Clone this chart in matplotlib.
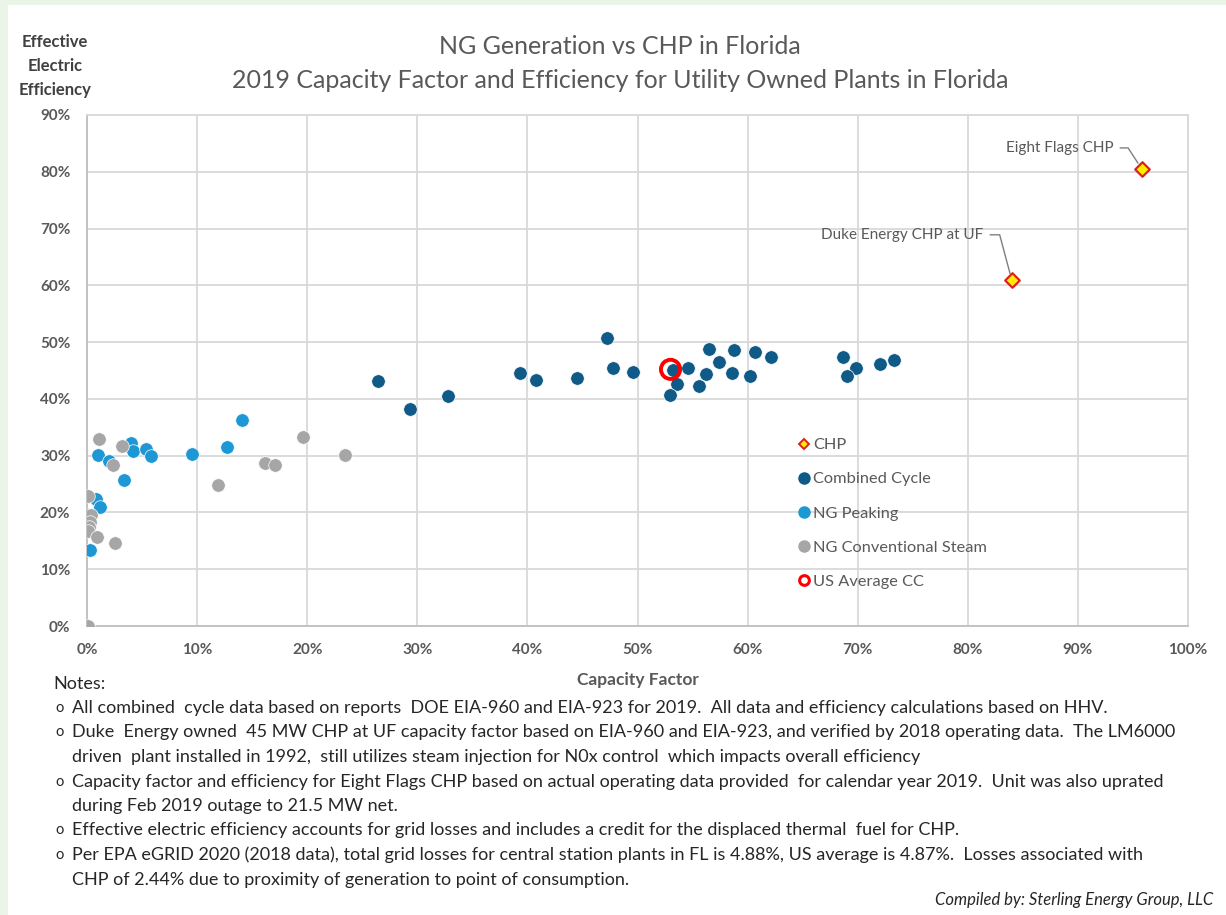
import matplotlib
matplotlib.use('Agg')
import matplotlib.pyplot as plt
from matplotlib.ticker import FuncFormatter, MultipleLocator
from matplotlib.lines import Line2D

plt.rcParams['font.family'] = ['Lato', 'DejaVu Sans']

# capacity factor (%) / effective electric efficiency (%)
chp_x = [95.8, 84.0]
chp_y = [80.5, 60.9]
chp_names = ['Eight Flags CHP', 'Duke Energy CHP at UF']

cc_x = [26.4, 29.3, 32.8, 39.3, 40.75, 44.5, 47.2, 47.75, 49.6, 53.25, 53.6, 52.95, 54.6, 55.6,
        56.2, 56.5, 57.4, 58.8, 58.6, 60.2, 60.7, 62.1, 68.7, 69.85, 69.05, 72.0, 73.3]
cc_y = [43.2, 38.3, 40.5, 44.5, 43.3, 43.7, 50.8, 45.4, 44.7, 45.1, 42.6, 40.7, 45.5, 42.3,
        44.3, 48.8, 46.5, 48.6, 44.5, 44.0, 48.2, 47.4, 47.4, 45.4, 44.1, 46.1, 46.9]

peak_x = [14.1, 12.7, 9.5, 4.0, 4.15, 5.4, 5.8, 0.97, 2.0, 3.36, 0.8, 1.2, 0.0, 0.27]
peak_y = [36.3, 31.5, 30.3, 32.2, 30.9, 31.1, 29.9, 30.1, 29.0, 25.8, 22.3, 21.0, 19.5, 13.4]

steam_x = [1.1, 3.15, 19.6, 23.4, 16.2, 17.1, 2.4, 11.9, 0.06, 0.4, 0.27, 0.2, 0.06, 0.9, 2.5, 0.1]
steam_y = [32.9, 31.7, 33.2, 30.2, 28.7, 28.3, 28.3, 24.9, 22.9, 19.5, 18.4, 17.5, 16.7, 15.6, 14.7, 0.0]

usavg_x = [53.0]
usavg_y = [45.2]

notes = [
    ['All combined  cycle data based on reports  DOE EIA-960 and EIA-923 for 2019.  All data and efficiency calculations based on HHV.'],
    ['Duke  Energy owned  45 MW CHP at UF capacity factor based on EIA-960 and EIA-923, and verified by 2018 operating data.  The LM6000',
     'driven  plant installed in 1992,  still utilizes steam injection for N0x control  which impacts overall efficiency'],
    ['Capacity factor and efficiency for Eight Flags CHP based on actual operating data provided  for calendar year 2019.  Unit was also uprated',
     'during Feb 2019 outage to 21.5 MW net.'],
    ['Effective electric efficiency accounts for grid losses and includes a credit for the displaced thermal  fuel for CHP.'],
    ['Per EPA eGRID 2020 (2018 data), total grid losses for central station plants in FL is 4.88%, US average is 4.87%.  Losses associated with',
     'CHP of 2.44% due to proximity of generation to point of consumption.'],
]

CC = '#0f5a87'
PEAK = '#1e98d4'
STEAM = '#a6a6a6'
TXT = '#595959'

fig = plt.figure(figsize=(12.26, 9.15), dpi=100)
fig.patch.set_facecolor('#eaf5e8')
# white panel with thin green margin on the left and top
fig.add_artist(plt.Rectangle((8 / 1226, 0), 1, 1 - 5 / 915, transform=fig.transFigure,
                             facecolor='white', edgecolor='none', zorder=0))

ax = fig.add_axes([87 / 1226, 1 - 626 / 915, 1101 / 1226, 511 / 915])
ax.set_xlim(0, 100)
ax.set_ylim(0, 90)
ax.xaxis.set_major_locator(MultipleLocator(10))
ax.yaxis.set_major_locator(MultipleLocator(10))
pct = FuncFormatter(lambda v, p: '{:.0f}%'.format(v))
ax.xaxis.set_major_formatter(pct)
ax.yaxis.set_major_formatter(pct)
ax.grid(True, color='#d9d9d9', linewidth=1.3)
ax.set_axisbelow(True)
for s in ax.spines.values():
    s.set_color('#d9d9d9')
    s.set_linewidth(1.3)
ax.spines['left'].set_color('#bfbfbf')
ax.spines['bottom'].set_color('#bfbfbf')
ax.tick_params(length=0, labelsize=11, labelcolor=TXT)
ax.tick_params(axis='x', pad=12)
ax.tick_params(axis='y', pad=12)
for lab in ax.get_xticklabels() + ax.get_yticklabels():
    lab.set_fontweight('bold')

ax.scatter(chp_x, chp_y, marker='D', s=55, facecolor='#ffee00', edgecolor='#e02020',
           linewidth=1.6, zorder=5, label='CHP')
ax.scatter(cc_x, cc_y, s=95, color=CC, edgecolor='white', linewidth=0.5, zorder=3,
           label='Combined Cycle')
ax.scatter(peak_x, peak_y, s=95, color=PEAK, edgecolor='white', linewidth=0.5, zorder=3,
           label='NG Peaking')
ax.scatter(steam_x, steam_y, s=95, color=STEAM, edgecolor='white', linewidth=0.5, zorder=3,
           label='NG Conventional Steam')
ax.scatter(usavg_x, usavg_y, s=190, facecolor='none', edgecolor='#ff0000', linewidth=2.8,
           zorder=6, label='US Average CC')

# leader-line labels for the CHP points
offsets = [(-2.6, 3.7), (-2.6, 8.0)]
angles = [123, 105]
for x, y, name, (dx, dy), ang in zip(chp_x, chp_y, chp_names, offsets, angles):
    ax.annotate(name, xy=(x, y), xytext=(x + dx, y + dy), ha='right', va='center',
                fontsize=11, color=TXT,
                arrowprops=dict(arrowstyle='-', color='#7f7f7f', linewidth=1,
                                shrinkA=3, shrinkB=5,
                                connectionstyle='angle,angleA=0,angleB={},rad=0'.format(ang)))

handles = [
    Line2D([], [], marker='D', linestyle='none', markersize=5.5, markerfacecolor='#ffee00',
           markeredgecolor='#e02020', markeredgewidth=1.4),
    Line2D([], [], marker='o', linestyle='none', markersize=8, color=CC),
    Line2D([], [], marker='o', linestyle='none', markersize=8, color=PEAK),
    Line2D([], [], marker='o', linestyle='none', markersize=8, color=STEAM),
    Line2D([], [], marker='o', linestyle='none', markersize=7, markerfacecolor='white',
           markeredgecolor='#ff0000', markeredgewidth=2.2),
]
labels = ['CHP', 'Combined Cycle', 'NG Peaking', 'NG Conventional Steam', 'US Average CC']
leg = ax.legend(handles, labels, loc='upper left', bbox_to_anchor=(0.641, 0.381),
                frameon=False, fontsize=11.8, labelcolor=TXT, handlelength=0.6,
                handletextpad=0.25, labelspacing=1.2, borderaxespad=0)

ax.set_xlabel('Capacity Factor', fontsize=12.5, fontweight='bold', color=TXT, labelpad=11)

fig.text(620 / 1226, 1 - 47 / 915, 'NG Generation vs CHP in Florida', ha='center', va='center',
         fontsize=18, color=TXT)
fig.text(620 / 1226, 1 - 81 / 915,
         '2019 Capacity Factor and Efficiency for Utility Owned Plants in Florida',
         ha='center', va='center', fontsize=18, color=TXT)
fig.text(55 / 1226, 1 - 66 / 915, 'Effective\nElectric\nEfficiency', ha='center', va='center',
         fontsize=12, fontweight='bold', color='#404040', linespacing=1.6)

# notes block
NOTE = '#262626'
fig.text(53 / 1226, 1 - 684 / 915, 'Notes:', ha='left', va='center', fontsize=13, color=NOTE)
yy = 708
for item in notes:
    fig.text(55 / 1226, 1 - yy / 915, 'o', ha='left', va='center', fontsize=10.5, color=NOTE)
    for line in item:
        fig.text(72 / 1226, 1 - yy / 915, line, ha='left', va='center', fontsize=13, color=NOTE)
        yy += 24.5
fig.text(1213 / 1226, 1 - 900 / 915, 'Compiled by: Sterling Energy Group, LLC', ha='right',
         va='center', fontsize=12, style='italic', color=NOTE)

fig.savefig('out.png', dpi=100)
